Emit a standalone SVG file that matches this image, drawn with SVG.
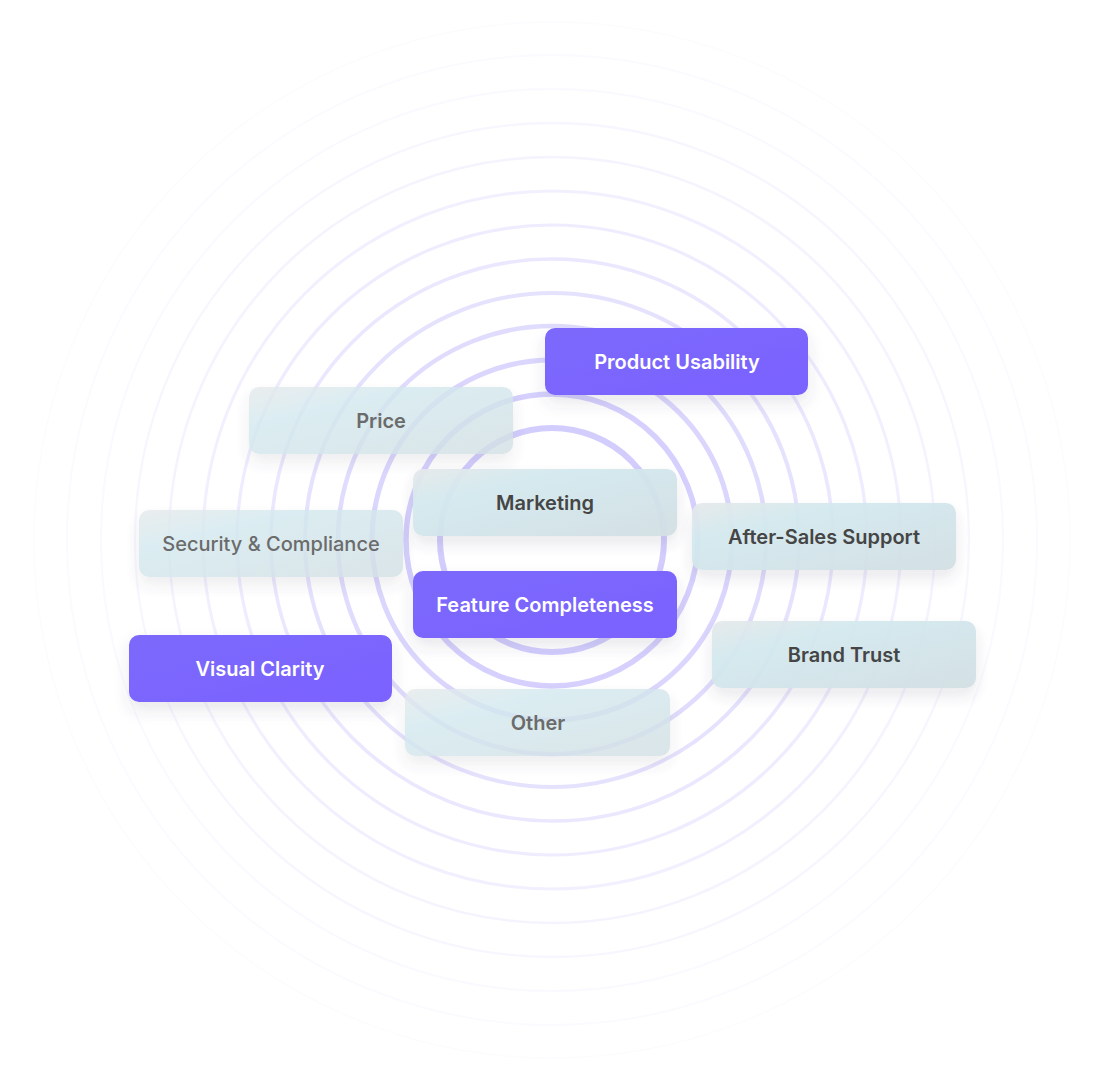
<svg xmlns="http://www.w3.org/2000/svg" width="1105" height="1080" viewBox="0 0 1105 1080">
<defs>
<style>
.ring{fill:none;stroke:#7c6cf8}
.lbl{font-family:Inter,"Noto Sans","Liberation Sans",sans-serif;font-size:20px;font-weight:600;text-anchor:middle}
.w{fill:#ffffff}
.d{fill:#454545}
.g{fill:#6b6b6b}
.gl{opacity:0.8}
.gd{opacity:0.95}
</style>
<linearGradient id="pur" x1="0" y1="0" x2="1" y2="1">
<stop offset="0" stop-color="#7b69fb"/>
<stop offset="1" stop-color="#7a62ff"/>
</linearGradient>
<linearGradient id="glass" x1="0" y1="0" x2="1" y2="1">
<stop offset="0" stop-color="#e6e9eb"/>
<stop offset="0.3" stop-color="#d3e9ef"/>
<stop offset="1" stop-color="#d2dfe3"/>
</linearGradient>
<filter id="sh" x="-20%" y="-30%" width="140%" height="180%">
<feDropShadow dx="0" dy="8" stdDeviation="8" flood-color="#404060" flood-opacity="0.12"/>
</filter>
</defs>
<rect width="1105" height="1080" fill="#ffffff"/>
<g id="rings">
<circle class="ring" cx="552" cy="540" r="112" stroke-width="6" stroke-opacity="0.34"/>
<circle class="ring" cx="552" cy="540" r="146" stroke-width="5.5" stroke-opacity="0.32"/>
<circle class="ring" cx="552" cy="540" r="180" stroke-width="5" stroke-opacity="0.28"/>
<circle class="ring" cx="552" cy="540" r="214" stroke-width="4.5" stroke-opacity="0.24"/>
<circle class="ring" cx="552" cy="540" r="247" stroke-width="4" stroke-opacity="0.2"/>
<circle class="ring" cx="552" cy="540" r="281" stroke-width="3.5" stroke-opacity="0.16"/>
<circle class="ring" cx="552" cy="540" r="315" stroke-width="3.2" stroke-opacity="0.13"/>
<circle class="ring" cx="552" cy="540" r="349" stroke-width="3" stroke-opacity="0.1"/>
<circle class="ring" cx="552" cy="540" r="383" stroke-width="2.6" stroke-opacity="0.08"/>
<circle class="ring" cx="552" cy="540" r="417" stroke-width="2.3" stroke-opacity="0.06"/>
<circle class="ring" cx="552" cy="540" r="451" stroke-width="2" stroke-opacity="0.045"/>
<circle class="ring" cx="552" cy="540" r="485" stroke-width="1.8" stroke-opacity="0.035"/>
<circle class="ring" cx="552" cy="540" r="518" stroke-width="1.5" stroke-opacity="0.025"/>
</g>
<g id="connectors"/>
<g id="node-price">
<rect class="gl" x="249" y="387" width="264" height="67" rx="10" fill="url(#glass)" filter="url(#sh)"/>
<text class="lbl g" x="381" y="428">Price</text>
</g>
<g id="node-security">
<rect class="gl" x="139" y="510" width="264" height="67" rx="10" fill="url(#glass)" filter="url(#sh)"/>
<text class="lbl g" x="271" y="551" style="font-weight:500">Security &amp; Compliance</text>
</g>
<g id="node-other">
<rect class="gl" x="405" y="689" width="265" height="67" rx="10" fill="url(#glass)" filter="url(#sh)"/>
<text class="lbl g" x="538" y="730">Other</text>
</g>
<g id="node-product-usability">
<rect x="545" y="328" width="263" height="67" rx="10" fill="url(#pur)" filter="url(#sh)"/>
<text class="lbl w" x="677" y="369">Product Usability</text>
</g>
<g id="node-marketing">
<rect class="gd" x="413" y="469" width="264" height="67" rx="10" fill="url(#glass)" filter="url(#sh)"/>
<text class="lbl d" x="545" y="510">Marketing</text>
</g>
<g id="node-after-sales">
<rect class="gd" x="692" y="503" width="264" height="67" rx="10" fill="url(#glass)" filter="url(#sh)"/>
<text class="lbl d" x="824" y="544">After-Sales Support</text>
</g>
<g id="node-feature-completeness">
<rect x="413" y="571" width="264" height="67" rx="10" fill="url(#pur)" filter="url(#sh)"/>
<text class="lbl w" x="545" y="612">Feature Completeness</text>
</g>
<g id="node-visual-clarity">
<rect x="129" y="635" width="263" height="67" rx="10" fill="url(#pur)" filter="url(#sh)"/>
<text class="lbl w" x="260" y="676">Visual Clarity</text>
</g>
<g id="node-brand-trust">
<rect class="gd" x="712" y="621" width="264" height="67" rx="10" fill="url(#glass)" filter="url(#sh)"/>
<text class="lbl d" x="844" y="662">Brand Trust</text>
</g>
</svg>
